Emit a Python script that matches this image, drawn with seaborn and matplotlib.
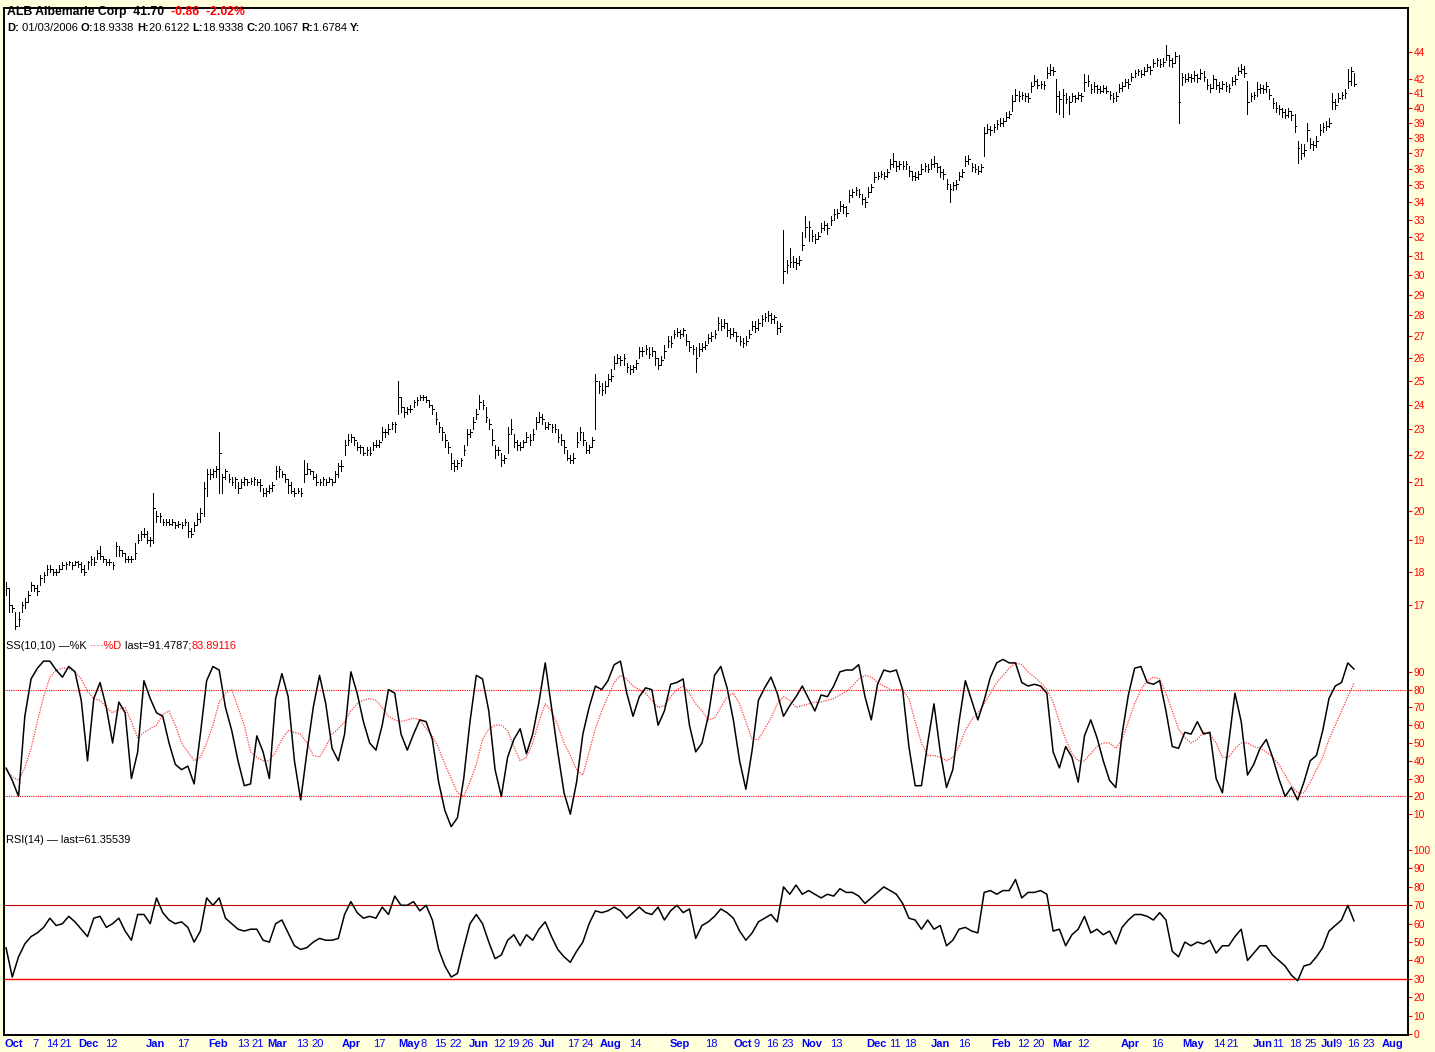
import numpy as np
import pandas as pd
import matplotlib
matplotlib.use('Agg')
import matplotlib.pyplot as plt
import matplotlib.transforms as mtrans
from matplotlib.ticker import FixedLocator, FixedFormatter, NullLocator
import seaborn as sns

# daily bars, one value per trading day
close = [
    17.5, 17.0, 16.9, 16.4, 16.6, 17.0, 17.1, 17.3, 17.6, 17.5,
    17.4, 17.8, 17.9, 18.1, 18.1, 18.0, 18.0, 18.1, 18.2, 18.25,
    18.3, 18.2, 18.3, 18.25, 18.1, 18.0, 18.3, 18.4, 18.3, 18.6,
    18.5, 18.4, 18.3, 18.3, 18.2, 18.8, 18.7, 18.6, 18.4, 18.4,
    18.4, 18.6, 19.0, 19.2, 19.2, 19.0, 19.0, 20.1, 19.8, 19.8,
    19.6, 19.6, 19.55, 19.6, 19.5, 19.55, 19.5, 19.6, 19.3, 19.2,
    19.5, 19.7, 19.9, 20.8, 21.3, 21.3, 21.4, 21.5, 22.1, 21.2,
    21.4, 21.1, 21.0, 21.1, 20.8, 21.0, 21.1, 21.0, 21.05, 21.1,
    21.0, 20.9, 20.6, 20.7, 20.8, 20.9, 21.4, 21.5, 21.3, 21.1,
    20.9, 20.7, 20.6, 20.7, 20.6, 21.3, 21.5, 21.4, 21.2, 21.0,
    21.0, 21.1, 21.0, 21.1, 21.0, 21.3, 21.6, 21.6, 22.4, 22.6,
    22.7, 22.6, 22.3, 22.3, 22.1, 22.2, 22.1, 22.4, 22.4, 22.5,
    22.9, 22.9, 23.0, 23.2, 23.2, 24.3, 23.9, 23.7, 23.8, 23.8,
    24.1, 24.2, 24.3, 24.3, 24.2, 24.0, 23.8, 23.4, 23.1, 22.9,
    22.6, 22.3, 21.7, 21.6, 21.7, 21.8, 22.2, 22.8, 22.9, 23.3,
    23.6, 24.1, 24.0, 23.5, 23.2, 22.6, 22.2, 22.2, 21.8, 21.9,
    22.8, 23.0, 22.5, 22.4, 22.3, 22.5, 22.7, 22.6, 22.8, 23.3,
    23.5, 23.4, 23.1, 23.2, 23.1, 23.0, 22.7, 22.6, 22.3, 21.9,
    21.8, 21.9, 22.5, 22.9, 22.6, 22.2, 22.3, 22.6, 25.0, 24.8,
    24.6, 24.8, 25.1, 25.2, 25.8, 26.0, 25.9, 26.0, 25.6, 25.5,
    25.6, 25.8, 26.3, 26.3, 26.4, 26.2, 26.3, 26.0, 25.7, 25.9,
    26.3, 26.8, 26.7, 27.1, 27.2, 27.1, 27.3, 26.8, 26.5, 26.4,
    26.0, 26.4, 26.5, 26.6, 26.9, 27.0, 27.1, 27.6, 27.5, 27.6,
    27.3, 27.1, 27.2, 27.0, 26.8, 26.7, 26.8, 27.1, 27.5, 27.4,
    27.6, 27.8, 27.9, 28.0, 27.8, 27.9, 27.4, 27.5, 30.2, 30.5,
    30.7, 30.7, 30.6, 30.8, 31.6, 32.6, 32.6, 32.1, 31.9, 32.1,
    32.5, 32.7, 32.5, 33.0, 33.3, 33.4, 33.8, 33.7, 33.4, 34.4,
    34.6, 34.7, 34.5, 34.2, 34.0, 34.6, 34.9, 35.5, 35.6, 35.7,
    35.6, 35.8, 36.3, 36.5, 36.2, 36.3, 36.2, 36.3, 35.9, 35.6,
    35.5, 35.7, 36.0, 36.2, 36.0, 36.3, 36.4, 36.1, 35.8, 35.7,
    35.1, 34.8, 35.0, 35.1, 35.6, 35.8, 36.5, 36.6, 36.1, 36.0,
    35.9, 36.1, 38.3, 38.6, 38.5, 38.7, 38.9, 39.0, 39.1, 39.4,
    39.6, 40.5, 40.9, 40.8, 40.9, 40.8, 40.7, 41.5, 41.9, 41.6,
    41.7, 41.6, 42.5, 42.7, 42.6, 40.8, 40.6, 40.9, 40.6, 40.4,
    40.8, 40.7, 40.9, 40.8, 41.8, 41.9, 41.3, 41.5, 41.3, 41.2,
    41.4, 41.2, 40.9, 40.7, 40.8, 41.4, 41.5, 41.8, 41.7, 42.2,
    42.5, 42.6, 42.4, 42.6, 42.9, 42.7, 43.2, 43.4, 43.1, 43.3,
    43.8, 43.4, 43.2, 43.7, 40.4, 42.2, 42.0, 42.2, 42.1, 42.3,
    42.1, 42.5, 42.2, 41.6, 41.4, 42.0, 41.6, 41.4, 41.7, 41.5,
    41.4, 41.9, 42.0, 42.6, 42.8, 42.5, 40.4, 40.8, 40.9, 41.3,
    41.4, 41.3, 41.5, 40.9, 40.3, 40.0, 39.9, 39.7, 39.5, 39.8,
    39.5, 38.8, 37.3, 37.0, 37.2, 38.5, 37.6, 37.5, 37.8, 38.5,
    38.7, 38.8, 39.0, 40.4, 40.2, 40.7, 40.9, 41.0, 41.9, 42.6,
    41.7,
]
high = [
    17.7, 17.5, 17.0, 16.8, 16.8, 17.1, 17.2, 17.4, 17.7, 17.6,
    17.6, 17.9, 18.0, 18.2, 18.2, 18.1, 18.1, 18.2, 18.3, 18.3,
    18.35, 18.3, 18.35, 18.35, 18.3, 18.2, 18.35, 18.5, 18.45, 18.7,
    18.8, 18.5, 18.4, 18.4, 18.3, 18.95, 18.8, 18.7, 18.6, 18.5,
    18.5, 18.9, 19.2, 19.3, 19.4, 19.3, 19.1, 20.6, 20.0, 19.9,
    19.7, 19.7, 19.7, 19.7, 19.6, 19.65, 19.6, 19.7, 19.6, 19.4,
    19.6, 19.9, 20.1, 21.0, 21.5, 21.5, 21.5, 21.6, 22.9, 21.3,
    21.5, 21.3, 21.2, 21.2, 21.0, 21.1, 21.2, 21.1, 21.15, 21.2,
    21.1, 21.1, 20.8, 20.8, 20.9, 21.0, 21.6, 21.6, 21.4, 21.3,
    21.1, 21.0, 20.8, 20.8, 20.8, 21.8, 21.7, 21.5, 21.4, 21.3,
    21.1, 21.2, 21.1, 21.2, 21.1, 21.4, 21.7, 21.8, 22.6, 22.8,
    22.8, 22.7, 22.5, 22.4, 22.3, 22.3, 22.3, 22.5, 22.6, 22.6,
    23.1, 23.0, 23.2, 23.3, 23.3, 25.0, 24.3, 23.9, 23.9, 24.0,
    24.2, 24.3, 24.4, 24.4, 24.35, 24.2, 24.0, 23.7, 23.3, 23.1,
    22.8, 22.5, 22.1, 21.8, 21.8, 21.9, 22.4, 23.0, 23.0, 23.5,
    23.8, 24.4, 24.2, 23.9, 23.4, 23.0, 22.4, 22.3, 22.1, 22.0,
    23.1, 23.4, 22.8, 22.6, 22.5, 22.6, 22.9, 22.8, 23.0, 23.5,
    23.7, 23.6, 23.3, 23.3, 23.2, 23.2, 23.0, 22.8, 22.6, 22.2,
    22.0, 22.1, 22.9, 23.1, 22.9, 22.5, 22.4, 22.7, 25.3, 25.0,
    24.9, 25.0, 25.3, 25.5, 26.1, 26.2, 26.1, 26.2, 25.8, 25.7,
    25.7, 25.9, 26.5, 26.5, 26.6, 26.5, 26.5, 26.3, 26.0, 26.1,
    26.6, 27.0, 27.0, 27.3, 27.4, 27.3, 27.4, 27.1, 26.8, 26.6,
    26.5, 26.7, 26.7, 26.8, 27.1, 27.2, 27.3, 27.9, 27.8, 27.8,
    27.6, 27.4, 27.4, 27.2, 27.0, 26.9, 27.0, 27.3, 27.7, 27.7,
    27.8, 28.0, 28.1, 28.2, 28.1, 28.0, 27.7, 27.6, 32.4, 30.8,
    31.4, 31.0, 30.9, 31.0, 32.3, 33.2, 32.9, 32.4, 32.2, 32.3,
    32.8, 32.9, 32.8, 33.2, 33.6, 33.6, 34.1, 33.9, 33.8, 34.7,
    34.8, 34.9, 34.8, 34.5, 34.3, 34.9, 35.1, 35.8, 35.8, 35.9,
    35.8, 36.0, 36.6, 37.0, 36.5, 36.5, 36.5, 36.5, 36.2, 35.9,
    35.8, 35.9, 36.3, 36.4, 36.3, 36.6, 36.8, 36.4, 36.2, 36.0,
    35.4, 35.1, 35.2, 35.3, 35.8, 36.0, 36.8, 36.9, 36.4, 36.3,
    36.2, 36.3, 38.7, 38.9, 38.8, 38.9, 39.2, 39.3, 39.3, 39.7,
    39.8, 40.9, 41.3, 41.2, 41.1, 41.0, 41.0, 41.8, 42.3, 42.0,
    41.9, 41.9, 42.9, 43.1, 42.9, 42.0, 41.2, 41.3, 41.0, 40.8,
    41.0, 40.9, 41.1, 41.0, 42.4, 42.3, 41.7, 41.8, 41.6, 41.5,
    41.6, 41.5, 41.2, 41.0, 41.1, 41.7, 41.8, 42.0, 42.0, 42.5,
    42.7, 42.8, 42.7, 42.9, 43.1, 43.0, 43.5, 43.6, 43.5, 43.6,
    44.6, 43.8, 43.6, 44.0, 43.8, 42.5, 42.4, 42.5, 42.4, 42.6,
    42.4, 42.8, 42.6, 42.0, 41.7, 42.3, 42.0, 41.8, 41.9, 41.8,
    41.7, 42.2, 42.3, 42.9, 43.1, 43.0, 41.9, 41.0, 41.1, 41.8,
    41.7, 41.6, 41.8, 41.3, 40.7, 40.4, 40.2, 40.0, 39.9, 40.0,
    39.8, 39.6, 37.8, 37.6, 37.6, 39.0, 38.0, 37.8, 38.1, 38.9,
    39.0, 39.1, 39.3, 41.0, 40.6, 41.0, 41.1, 41.3, 42.8, 42.9,
    42.5,
]
low = [
    17.3, 16.8, 16.8, 16.3, 16.4, 16.8, 16.9, 17.1, 17.4, 17.4,
    17.3, 17.6, 17.7, 17.9, 18.0, 17.9, 17.9, 18.0, 18.1, 18.1,
    18.2, 18.1, 18.2, 18.15, 18.0, 17.9, 18.1, 18.2, 18.2, 18.4,
    18.4, 18.3, 18.2, 18.2, 18.1, 18.5, 18.5, 18.5, 18.3, 18.3,
    18.3, 18.4, 18.9, 19.0, 19.1, 18.9, 18.8, 18.9, 19.6, 19.6,
    19.5, 19.5, 19.5, 19.5, 19.4, 19.45, 19.4, 19.5, 19.1, 19.1,
    19.3, 19.5, 19.6, 19.8, 20.5, 21.1, 21.2, 21.2, 20.6, 20.6,
    21.1, 21.0, 20.9, 20.8, 20.6, 20.8, 20.9, 20.9, 20.95, 20.9,
    20.9, 20.7, 20.5, 20.5, 20.6, 20.7, 21.1, 21.2, 21.2, 21.0,
    20.6, 20.6, 20.5, 20.6, 20.5, 21.0, 21.3, 21.3, 21.1, 20.9,
    20.9, 20.9, 20.9, 21.0, 20.9, 21.0, 21.2, 21.4, 22.0, 22.4,
    22.5, 22.4, 22.2, 22.1, 22.0, 22.0, 22.0, 22.2, 22.3, 22.3,
    22.6, 22.7, 22.8, 23.0, 22.9, 23.6, 23.7, 23.5, 23.6, 23.7,
    23.9, 24.0, 24.2, 24.2, 24.1, 23.9, 23.6, 23.2, 22.9, 22.6,
    22.3, 22.1, 21.5, 21.4, 21.5, 21.6, 22.0, 22.4, 22.7, 23.0,
    23.4, 23.8, 23.8, 23.3, 23.0, 22.4, 21.9, 22.0, 21.6, 21.7,
    22.1, 22.8, 22.3, 22.2, 22.2, 22.3, 22.5, 22.4, 22.6, 23.0,
    23.3, 23.2, 23.0, 23.0, 22.9, 22.9, 22.5, 22.4, 22.1, 21.8,
    21.7, 21.7, 22.3, 22.6, 22.4, 22.1, 22.1, 22.3, 23.0, 24.5,
    24.4, 24.5, 24.8, 25.0, 25.5, 25.8, 25.7, 25.7, 25.4, 25.3,
    25.4, 25.5, 26.0, 26.1, 26.2, 26.0, 26.1, 25.7, 25.5, 25.7,
    26.0, 26.5, 26.5, 26.9, 27.0, 26.9, 27.0, 26.6, 26.3, 26.2,
    25.4, 26.1, 26.3, 26.4, 26.7, 26.8, 26.9, 27.3, 27.3, 27.4,
    27.0, 26.9, 27.0, 26.8, 26.6, 26.5, 26.6, 26.9, 27.3, 27.2,
    27.3, 27.5, 27.7, 27.7, 27.6, 27.6, 27.1, 27.2, 29.6, 30.1,
    30.4, 30.4, 30.3, 30.5, 31.3, 32.0, 31.8, 31.8, 31.7, 31.9,
    32.3, 32.4, 32.2, 32.7, 33.0, 33.1, 33.5, 33.4, 33.2, 34.0,
    34.3, 34.4, 34.3, 33.9, 33.7, 34.3, 34.6, 35.2, 35.4, 35.5,
    35.4, 35.5, 36.0, 36.1, 35.9, 36.0, 36.0, 36.0, 35.6, 35.3,
    35.3, 35.4, 35.7, 35.9, 35.8, 36.0, 36.1, 35.8, 35.5, 35.4,
    34.8, 34.0, 34.7, 34.8, 35.3, 35.5, 36.2, 36.3, 35.9, 35.8,
    35.7, 35.8, 36.8, 38.3, 38.2, 38.4, 38.6, 38.8, 38.8, 39.1,
    39.3, 39.8, 40.5, 40.5, 40.6, 40.5, 40.4, 41.1, 41.6, 41.4,
    41.4, 41.3, 42.1, 42.3, 42.3, 39.7, 39.6, 39.4, 40.3, 39.6,
    40.5, 40.4, 40.6, 40.5, 41.2, 41.5, 41.0, 41.1, 41.0, 41.0,
    41.1, 41.0, 40.6, 40.4, 40.5, 41.1, 41.2, 41.5, 41.4, 41.9,
    42.2, 42.3, 42.2, 42.3, 42.6, 42.4, 42.9, 43.0, 42.9, 43.0,
    43.4, 43.0, 42.9, 43.2, 39.0, 41.6, 41.8, 41.9, 41.8, 41.9,
    41.8, 42.0, 41.9, 41.3, 41.1, 41.4, 41.3, 41.1, 41.3, 41.2,
    41.1, 41.6, 41.7, 42.3, 42.5, 42.2, 39.6, 40.5, 40.6, 40.8,
    41.0, 41.0, 41.1, 40.6, 40.0, 39.7, 39.6, 39.4, 39.3, 39.4,
    39.2, 38.4, 36.4, 36.6, 36.8, 37.8, 37.3, 37.2, 37.4, 38.2,
    38.4, 38.5, 38.7, 39.9, 39.9, 40.4, 40.6, 40.7, 41.4, 41.6,
    41.5,
]

# indicators, read every second bar
stoch_k = [
    36, 29, 20, 65, 86, 92, 96, 96, 91, 87,
    93, 90, 74, 40, 75, 84, 70, 50, 73, 67,
    30, 45, 85, 75, 67, 65, 50, 38, 35, 37,
    27, 55, 85, 93, 91, 70, 57, 40, 26, 27,
    54, 45, 30, 75, 89, 76, 40, 18, 45, 70,
    88, 72, 47, 40, 55, 90, 78, 62, 50, 46,
    60, 80, 78, 55, 46, 55, 63, 62, 52, 28,
    12, 3, 8, 30, 62, 88, 86, 68, 35, 20,
    42, 52, 58, 44, 55, 73, 95, 70, 45, 22,
    10, 28, 55, 70, 82, 80, 85, 94, 96, 78,
    65, 76, 81, 80, 60, 68, 83, 84, 86, 60,
    45, 50, 65, 88, 93, 81, 63, 40, 24, 46,
    74, 81, 87, 78, 65, 71, 76, 82, 75, 68,
    77, 76, 82, 90, 91, 91, 94, 76, 63, 83,
    91, 90, 91, 80, 48, 26, 26, 50, 72, 45,
    25, 35, 62, 85, 74, 63, 74, 87, 95, 97,
    95, 95, 84, 82, 83, 82, 78, 45, 36, 48,
    42, 28, 54, 63, 53, 40, 29, 25, 55, 77,
    92, 93, 84, 83, 85, 68, 48, 47, 56, 55,
    62, 55, 56, 30, 22, 50, 78, 62, 32, 38,
    47, 52, 42, 30, 20, 25, 18, 28, 40, 43,
    57, 75, 82, 84, 95, 91.5,
]
stoch_d = [
    35, 31, 29, 36, 47, 62, 76, 87, 91, 92,
    92, 90, 86, 79, 75, 74, 70, 67, 69, 70,
    62, 53, 56, 58, 60, 66, 68, 60, 50, 45,
    40, 42, 50, 60, 73, 78, 80, 70, 60, 45,
    42, 40, 40, 45, 52, 57, 56, 55, 50, 43,
    42, 48, 55, 58, 62, 68, 72, 74, 75, 74,
    70, 65, 63, 62, 63, 64, 63, 58, 54, 47,
    38, 30, 22, 20, 28, 38, 52, 58, 60, 60,
    57, 48, 40, 42, 50, 62, 72, 68, 60, 50,
    43, 35, 32, 45, 58, 68, 76, 84, 88, 86,
    82, 80, 78, 74, 70, 71, 76, 80, 82, 78,
    72, 68, 63, 64, 70, 76, 78, 72, 62, 52,
    52, 58, 64, 72, 76, 74, 70, 71, 72, 73,
    73, 74, 75, 77, 79, 82, 86, 88, 87, 84,
    82, 80, 80, 80, 75, 62, 50, 43, 43, 42,
    40, 42, 48, 57, 63, 67, 72, 78, 84, 88,
    92, 95, 94, 90, 87, 84, 80, 73, 62, 52,
    44, 40, 40, 44, 48, 50, 50, 47, 52, 62,
    72, 80, 85, 87, 86, 78, 68, 58, 53, 50,
    52, 56, 55, 50, 42, 42, 47, 50, 50, 48,
    47, 45, 42, 38, 32, 26, 22, 22, 28, 35,
    42, 52, 60, 68, 76, 83.9,
]
rsi = [
    47, 31, 42, 49, 53, 55, 58, 63, 59, 60,
    64, 61, 57, 53, 63, 64, 58, 60, 63, 56,
    51, 65, 65, 60, 74, 66, 62, 60, 61, 58,
    50, 56, 74, 70, 74, 63, 60, 57, 56, 57,
    57, 51, 50, 60, 62, 55, 48, 46, 47, 50,
    52, 51, 51, 52, 65, 72, 66, 63, 64, 63,
    69, 65, 75, 70, 70, 72, 67, 70, 62, 46,
    37, 31, 33, 47, 60, 65, 60, 50, 41, 43,
    51, 54, 48, 54, 51, 57, 61, 53, 46, 42,
    39, 45, 50, 60, 67, 66, 67, 69, 67, 63,
    66, 69, 66, 65, 69, 62, 67, 70, 66, 68,
    52, 59, 61, 64, 68, 66, 63, 56, 51, 55,
    61, 63, 65, 61, 80, 76, 81, 76, 78, 76,
    74, 76, 75, 79, 77, 77, 75, 71, 74, 77,
    80, 78, 76, 71, 63, 62, 57, 62, 57, 59,
    48, 51, 57, 58, 56, 55, 77, 78, 76, 78,
    78, 84, 74, 77, 77, 78, 76, 56, 57, 48,
    54, 57, 64, 55, 57, 54, 56, 49, 58, 62,
    65, 65, 64, 62, 66, 62, 45, 42, 50, 48,
    50, 49, 51, 44, 48, 48, 53, 57, 40, 44,
    48, 48, 43, 40, 37, 32, 29, 37, 38, 42,
    47, 56, 59, 62, 70, 61.4,
]

price_ticks = [17, 18, 19, 20, 21, 22, 23, 24, 25, 26, 27, 28, 29, 30, 31,
               32, 33, 34, 35, 36, 37, 38, 39, 40, 41, 42, 44]
stoch_ticks = [10, 20, 30, 40, 50, 60, 70, 80, 90]
rsi_ticks = [0, 10, 20, 30, 40, 50, 60, 70, 80, 90, 100]

# date labels and the bar they sit on
date_labels = ['Oct', '7', '14', '21', 'Dec', '12', 'Jan', '17', 'Feb', '13', '21',
               'Mar', '13', '20', 'Apr', '17', 'May', '8', '15', '22', 'Jun', '12',
               '19', '26', 'Jul', '17', '24', 'Aug', '14', 'Sep', '18', 'Oct', '9',
               '16', '23', 'Nov', '13', 'Dec', '11', '18', 'Jan', '16', 'Feb', '12',
               '20', 'Mar', '12', 'Apr', '16', 'May', '14', '21', 'Jun', '11', '18',
               '25', 'Jul', '9', '16', '23', 'Aug']
date_bars = [2.6, 9.3, 14.7, 19.1, 26.2, 33.5, 47.8, 56.5, 67.6, 75.6, 80.4,
             86.4, 94.4, 99.5, 110, 119, 128.5, 133.3, 138.4, 143.5, 150.9, 157.3,
             161.7, 166.5, 172.6, 180.9, 185.6, 192.7, 200.6, 215, 224.9, 235.1, 239.5,
             244.3, 249.4, 257.1, 264.8, 277.8, 283.6, 288.4, 298.2, 305.6, 317.4, 324.4,
             329.5, 336.8, 343.5, 358.5, 367.1, 378.6, 386.9, 391.4, 401, 405.7, 411.2,
             416, 422, 424.9, 429.7, 434.7, 442.4]

sns.set_style('white')
plt.rcParams['font.family'] = ['Liberation Sans', 'DejaVu Sans']

W, H = 1435, 1052
BG = '#FFFFDC'
RED = '#FF0000'
BLUE = '#0000FF'

fig = plt.figure(figsize=(W / 100, H / 100), dpi=100, facecolor=BG)


def panel(top, bottom, **kw):
    return fig.add_axes([4 / W, 1 - bottom / H, (1408 - 4) / W, (bottom - top) / H], **kw)


ax_p = panel(8, 638)
ax_s = panel(638, 835, sharex=ax_p)
ax_r = panel(835, 1035, sharex=ax_p)

bars = pd.DataFrame({'c': close, 'h': high, 'l': low})
bars['i'] = np.arange(len(bars))
ax_p.vlines(bars['i'], bars['l'], bars['h'], color='black', lw=0.6, antialiased=False)
ax_p.hlines(bars['c'], bars['i'], bars['i'] + 0.55, color='black', lw=0.6, antialiased=False)
ax_p.set_yscale('log')
ax_p.set_ylim(16.06, 47.5)

ind = pd.DataFrame({'k': stoch_k, 'd': stoch_d, 'rsi': rsi})
ind['i'] = np.arange(len(ind)) * 2

ax_s.axhline(80, color=RED, lw=0.8, ls=(0, (1, 1)))
ax_s.axhline(20, color=RED, lw=0.8, ls=(0, (1, 1)))
sns.lineplot(data=ind, x='i', y='d', ax=ax_s, color='#FF4040', lw=0.9,
             linestyle=(0, (1, 1)), legend=False)
sns.lineplot(data=ind, x='i', y='k', ax=ax_s, color='black', lw=1.1, legend=False)
ax_s.set_ylim(-1.7, 109)

ax_r.axhline(70, color='#C00000', lw=0.8)
ax_r.axhline(30, color=RED, lw=1.0)
sns.lineplot(data=ind, x='i', y='rsi', ax=ax_r, color='black', lw=1.1, legend=False)
ax_r.set_ylim(-0.5, 108.2)

ax_p.set_xlim(-0.64, 447.2)

for ax, ticks in [(ax_p, price_ticks), (ax_s, stoch_ticks), (ax_r, rsi_ticks)]:
    ax.set_facecolor('white')
    ax.set_xlabel('')
    ax.set_ylabel('')
    ax.yaxis.tick_right()
    ax.yaxis.set_major_locator(FixedLocator(ticks))
    ax.yaxis.set_major_formatter(FixedFormatter([str(t) for t in ticks]))
    ax.yaxis.set_minor_locator(NullLocator())
    ax.tick_params(axis='y', which='major', direction='out', length=3, width=0.8,
                   color=RED, labelcolor=RED, labelsize=7.4, pad=1, right=True, left=False)
    for sp in ax.spines.values():
        sp.set_color('black')
        sp.set_linewidth(1.4)

ax_p.spines['bottom'].set_visible(False)
ax_s.spines['top'].set_visible(False)
ax_s.spines['bottom'].set_visible(False)
ax_r.spines['top'].set_visible(False)
ax_p.tick_params(axis='x', bottom=False, labelbottom=False)
ax_s.tick_params(axis='x', bottom=False, labelbottom=False)

ax_r.set_xticks(date_bars)
ax_r.set_xticklabels(date_labels)
ax_r.tick_params(axis='x', length=0, pad=3, labelsize=8, labelcolor=BLUE)
for lab in ax_r.get_xticklabels():
    if lab.get_text().isalpha():
        lab.set_fontweight('bold')

renderer = fig.canvas.get_renderer()


def write(x, y, pieces, size):
    for s, color, weight in pieces:
        t = fig.text(x, H - y, s, transform=mtrans.IdentityTransform(), color=color,
                     fontsize=size, fontweight=weight, va='center', ha='left', zorder=5)
        x = t.get_window_extent(renderer).x1


write(7, 12, [('ALB Albemarle Corp  41.70  ', 'black', 'bold'),
              ('-0.86  -2.02%', RED, 'bold')], 8.8)
write(7, 28, [('D:', 'black', 'bold'), (' 01/03/2006 ', 'black', 'normal'),
              ('O:', 'black', 'bold'), ('18.9338 ', 'black', 'normal'),
              ('H:', 'black', 'bold'), ('20.6122 ', 'black', 'normal'),
              ('L:', 'black', 'bold'), ('18.9338 ', 'black', 'normal'),
              ('C:', 'black', 'bold'), ('20.1067 ', 'black', 'normal'),
              ('R:', 'black', 'bold'), ('1.6784 ', 'black', 'normal'),
              ('Y:', 'black', 'bold')], 8)
write(6, 646, [('SS(10,10) \u2014%K ', 'black', 'normal'), ('\u00b7\u00b7\u00b7\u00b7%D', RED, 'normal'),
               (' last=91.4787;', 'black', 'normal'), ('83.89116', RED, 'normal')], 7.9)
write(6, 840, [('RSI(14) \u2014 last=61.35539', 'black', 'normal')], 7.9)

fig.savefig('out.png', dpi=100, facecolor=BG)
